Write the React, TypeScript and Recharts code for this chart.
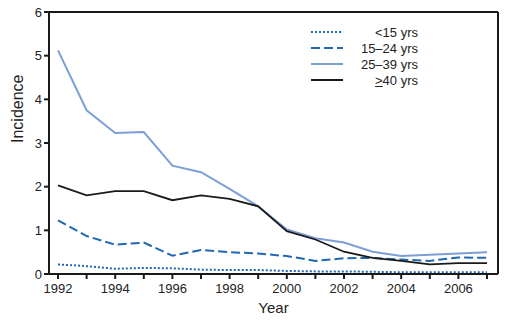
import React from "react"
import { LineChart, Line, XAxis, YAxis, ReferenceLine } from "recharts"

const years = [1992, 1993, 1994, 1995, 1996, 1997, 1998, 1999, 2000, 2001, 2002, 2003, 2004, 2005, 2006, 2007]
const under15 = [0.22, 0.18, 0.12, 0.14, 0.13, 0.1, 0.09, 0.09, 0.07, 0.06, 0.06, 0.05, 0.04, 0.04, 0.04, 0.04]
const age15to24 = [1.23, 0.87, 0.67, 0.72, 0.42, 0.55, 0.5, 0.47, 0.41, 0.3, 0.36, 0.37, 0.33, 0.3, 0.38, 0.37]
const age25to39 = [5.12, 3.75, 3.23, 3.25, 2.48, 2.33, 1.95, 1.55, 1.02, 0.82, 0.72, 0.51, 0.41, 0.44, 0.47, 0.5]
const age40plus = [2.03, 1.8, 1.9, 1.9, 1.69, 1.8, 1.72, 1.55, 0.98, 0.79, 0.51, 0.37, 0.3, 0.22, 0.25, 0.25]
const yTicks = [0, 1, 2, 3, 4, 5, 6]

const data = years.map((year, i) => ({
  year,
  under15: under15[i],
  age15to24: age15to24[i],
  age25to39: age25to39[i],
  age40plus: age40plus[i],
}))

const FONT = "'Liberation Sans', Arial, sans-serif"
const X_MIN = 1991.685
const X_MAX = 2007.385

const legendRows = [
  { key: "u15", label: <>&lt;15 yrs</>, color: "#1f68b3", dash: "2 2" },
  { key: "15", label: <>15–24 yrs</>, color: "#1f68b3", dash: "9 4" },
  { key: "25", label: <>25–39 yrs</>, color: "#7d9fd6", dash: undefined },
  { key: "40", label: <><span style={{ textDecoration: "underline" }}>&gt;</span>40 yrs</>, color: "#1a1a1a", dash: undefined },
]

// legend sits inside the plot, top right-ish, like the original figure
function AgeLegend() {
  return (
    <div style={{ position: "absolute", left: 311, top: 24, fontFamily: FONT, fontSize: 13, color: "#222" }}>
      {legendRows.map(r => (
        <div key={r.key} style={{ display: "flex", alignItems: "center", height: 16 }}>
          <svg width={33} height={6}>
            <line x1={0} y1={3} x2={32} y2={3} stroke={r.color} strokeWidth={2} strokeDasharray={r.dash} />
          </svg>
          <span style={{ width: 74, textAlign: "right" }}>{r.label}</span>
        </div>
      ))}
    </div>
  )
}

export default function App() {
  return (
    <div style={{ position: "absolute", left: 0, top: 0, width: 515, height: 320, background: "#fff" }}>
      <LineChart width={515} height={320} data={data} margin={{ top: 12, right: 17, bottom: 16, left: 0 }}>
        <XAxis
          dataKey="year"
          type="number"
          domain={[X_MIN, X_MAX]}
          ticks={years}
          tickFormatter={(v: number) => (v % 2 === 0 ? String(v) : "")}
          axisLine={{ stroke: "#1a1a1a", strokeWidth: 2 }}
          tickLine={{ stroke: "#1a1a1a", strokeWidth: 2 }}
          tickSize={5}
          tickMargin={5}
          tick={{ fill: "#222", fontSize: 13, fontFamily: FONT }}
          height={30}
          allowDataOverflow
          label={{ value: "Year", position: "insideBottom", offset: -9, fill: "#222", fontSize: 15, fontFamily: FONT }}
        />
        <YAxis
          domain={[0, 6]}
          ticks={yTicks}
          axisLine={{ stroke: "#1a1a1a", strokeWidth: 2 }}
          tickLine={{ stroke: "#1a1a1a", strokeWidth: 2 }}
          tickSize={5}
          width={49}
          tick={{ fill: "#222", fontSize: 13, fontFamily: FONT }}
          label={{ value: "Incidence", angle: -90, position: "insideLeft", offset: 17, fill: "#222", fontSize: 16, fontFamily: FONT }}
        />
        <ReferenceLine y={6} stroke="#1a1a1a" strokeWidth={2} />
        <ReferenceLine x={X_MAX} stroke="#1a1a1a" strokeWidth={2} />
        <Line dataKey="under15" stroke="#1f68b3" strokeWidth={2} strokeDasharray="2 2" dot={false} isAnimationActive={false} />
        <Line dataKey="age15to24" stroke="#1f68b3" strokeWidth={2} strokeDasharray="9 4" dot={false} isAnimationActive={false} />
        <Line dataKey="age25to39" stroke="#7d9fd6" strokeWidth={2} dot={false} isAnimationActive={false} />
        <Line dataKey="age40plus" stroke="#1a1a1a" strokeWidth={1.8} dot={false} isAnimationActive={false} />
      </LineChart>
      <AgeLegend />
    </div>
  )
}
